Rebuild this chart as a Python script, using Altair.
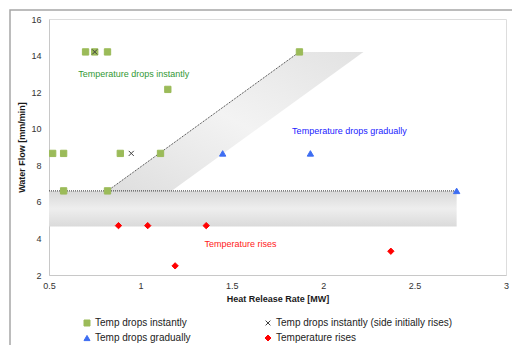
import altair as alt
import pandas as pd

FONT = "Liberation Sans"

# ---- data ----
series_names = [
    "Temp drops instantly",
    "Temp drops instantly (side initially rises)",
    "Temp drops gradually",
    "Temperature rises",
]
series_colors = ["#9bbb59", "#404040", "#3d6df2", "#ff0000"]
x_path = "M-0.8,-0.8L0.8,0.8M-0.8,0.8L0.8,-0.8"
series_shapes = ["square", x_path, "triangle-up", "diamond"]

inst_x = [0.70, 0.75, 0.82, 1.15, 0.52, 0.58, 0.89, 1.11, 1.87, 0.58, 0.82]
inst_y = [14.2, 14.2, 14.2, 12.15, 8.65, 8.65, 8.65, 8.65, 14.2, 6.6, 6.6]
side_x = [0.75, 0.95]
side_y = [14.2, 8.65]
grad_x = [1.45, 1.93, 2.73]
grad_y = [8.65, 8.65, 6.6]
rise_x = [0.88, 1.04, 1.36, 1.19, 2.37]
rise_y = [4.7, 4.7, 4.7, 2.5, 3.3]

# shaded regions
hband_x = [0.5, 2.73]
hband_top = [6.6, 6.6]
hband_bot = [4.65, 4.65]
dband_y = [6.6, 14.2]
dband_left = [0.82, 1.87]
dband_right = [1.17, 2.22]

# dotted boundary lines
hline_x = [0.5, 2.73]
hline_y = [6.6, 6.6]
dline_x = [0.82, 1.87]
dline_y = [6.6, 14.2]

# annotations
ann_text = ["Temperature drops instantly", "Temperature drops gradually", "Temperature rises"]
ann_x = [0.66, 1.83, 1.35]
ann_y = [13.0, 9.88, 3.7]
ann_color = ["#339933", "#1a1aff", "#ff2020"]

x_ticks = [0.5, 1, 1.5, 2, 2.5, 3]
y_ticks = [2, 4, 6, 8, 10, 12, 14, 16]

# ---- build tables ----
pts = pd.concat([
    pd.DataFrame({"x": inst_x, "y": inst_y, "series": series_names[0]}),
    pd.DataFrame({"x": grad_x, "y": grad_y, "series": series_names[2]}),
    pd.DataFrame({"x": rise_x, "y": rise_y, "series": series_names[3]}),
    pd.DataFrame({"x": side_x, "y": side_y, "series": series_names[1]}),
], ignore_index=True)

xscale = alt.Scale(domain=[0.5, 3], nice=False, zero=False)
yscale = alt.Scale(domain=[2, 16], nice=False, zero=False)

common_axis = dict(grid=False, ticks=False, domainColor="#c8c8c8", labelFontSize=9,
                   titleFontSize=9, labelColor="#333333", titleColor="#1a1a1a",
                   labelFont=FONT, titleFont=FONT, titleFontWeight="bold",
                   labelOverlap=False, labelFlush=False)
xaxis = alt.Axis(values=x_ticks, format="~g", title="Heat Release Rate [MW]",
                 labelPadding=6, titlePadding=4, **common_axis)
yaxis = alt.Axis(values=y_ticks, format="~g", title="Water Flow [mm/min]",
                 labelPadding=8, titlePadding=4, **common_axis)


def X(field):
    return alt.X(field, scale=xscale, axis=xaxis)


def Y(field):
    return alt.Y(field, scale=yscale, axis=yaxis)


frame = alt.Chart(pd.DataFrame({"a": [0]})).mark_rect(
    fill=None, stroke="#a6a6a6", strokeWidth=1.5
).encode(x=alt.value(-39), y=alt.value(-9), x2=alt.value(480), y2=alt.value(340))

hband = alt.Chart(pd.DataFrame({"x": hband_x, "top": hband_top, "bot": hband_bot})).mark_area(
    fill=alt.Gradient(gradient="linear", x1=0, x2=0, y1=0, y2=1,
                      stops=[alt.GradientStop(color="#d8d8d8", offset=0),
                             alt.GradientStop(color="#eeeeee", offset=0.5),
                             alt.GradientStop(color="#dadada", offset=1)])
).encode(x=X("x:Q"), y=Y("top:Q"), y2="bot:Q")

dband = alt.Chart(pd.DataFrame({"y": dband_y, "l": dband_left, "r": dband_right})).mark_area(
    orient="horizontal",
    fill=alt.Gradient(gradient="linear", x1=0, x2=1, y1=1, y2=0,
                      stops=[alt.GradientStop(color="#dedede", offset=0),
                             alt.GradientStop(color="#f3f3f3", offset=0.5),
                             alt.GradientStop(color="#e2e2e2", offset=1)])
).encode(y=Y("y:Q"), x=X("l:Q"), x2="r:Q")

hline = alt.Chart(pd.DataFrame({"x": hline_x, "y": hline_y})).mark_line(
    color="#333333", strokeWidth=1, strokeDash=[1, 1]
).encode(x=X("x:Q"), y=Y("y:Q"))

dline = alt.Chart(pd.DataFrame({"x": dline_x, "y": dline_y})).mark_line(
    color="#333333", strokeWidth=1, strokeDash=[1, 1]
).encode(x=X("x:Q"), y=Y("y:Q"))

points = alt.Chart(pts).mark_point(filled=True, opacity=1, strokeWidth=1, size=40).encode(
    x=X("x:Q"),
    y=Y("y:Q"),
    color=alt.Color("series:N", scale=alt.Scale(domain=series_names, range=series_colors),
                    legend=alt.Legend(title=None, orient="none", direction="horizontal",
                                      legendX=33, legendY=299,
                                      columns=2, columnPadding=72, rowPadding=5,
                                      labelFontSize=10, labelFont=FONT, labelColor="#222222",
                                      symbolSize=36, symbolStrokeWidth=1, padding=0,
                                      labelOffset=3, labelLimit=300)),
    stroke=alt.Stroke("series:N", scale=alt.Scale(domain=series_names, range=series_colors)),
    shape=alt.Shape("series:N", scale=alt.Scale(domain=series_names, range=series_shapes)),
    order=alt.Order("idx:Q"),
).transform_window(idx="row_number()")

ann = alt.Chart(pd.DataFrame({"t": ann_text, "x": ann_x, "y": ann_y, "c": ann_color})).mark_text(
    align="left", baseline="middle", fontSize=9, font=FONT
).encode(x=X("x:Q"), y=Y("y:Q"), text="t:N",
         color=alt.Color("c:N", scale=None))

chart = alt.layer(frame, hband, dband, hline, dline, points, ann).properties(
    width=457, height=256,
    autosize=alt.AutoSizeParams(type="none"),
    padding={"left": 49, "top": 19, "right": 6, "bottom": 70},
).configure_view(stroke=None).configure(background="white")

chart.save("out.html", embed_options={"renderer": "svg", "actions": False})
